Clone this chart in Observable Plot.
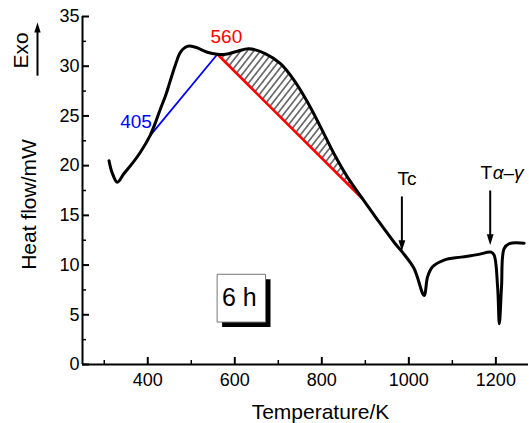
<!DOCTYPE html>
<html><head><meta charset="utf-8">
<script src="https://cdn.jsdelivr.net/npm/d3@7"></script>
<script src="https://cdn.jsdelivr.net/npm/@observablehq/plot@0.6"></script>
<style>body{margin:0;background:#fff}</style>
</head><body>
<div id="chart"></div>
<script>
// DSC curve (Temperature / K, Heat flow / mW)
const temperature = [311, 318, 330, 345, 364, 383, 405, 418, 429, 441, 450, 464, 475, 491, 510, 537, 560, 579, 606, 632, 671, 705, 736, 767, 797, 828, 859, 893, 909, 928, 966, 985, 1012, 1035, 1043, 1054, 1081, 1120, 1158, 1189, 1196, 1204, 1208, 1213, 1219, 1231, 1265];
const heatFlow    = [20.5, 19.3, 18.33, 19.18, 20.2, 21.35, 23.0, 24.37, 25.7, 27.05, 28.3, 30.2, 31.4, 32.0, 31.9, 31.4, 31.2, 31.2, 31.5, 31.75, 31.25, 30.25, 28.6, 26.4, 23.9, 21.2, 18.85, 16.7, 15.72, 14.55, 12.3, 11.3, 9.65, 6.95, 8.8, 9.8, 10.5, 10.8, 11.05, 11.3, 11.0, 7.8, 4.1, 7.8, 11.65, 12.15, 12.2];

// tangent lines
const blueLineT = [405, 560];
const blueLineV = [23.0, 31.2];
const redLineT  = [560, 893];
const redLineV  = [31.2, 16.7];
const blueLabel = "405";
const redLabel  = "560";

// axes
const xMajorTicks = [400, 600, 800, 1000, 1200];
const xMinorTicks = [300, 500, 700, 900, 1100];
const yMajorTicks = [0, 5, 10, 15, 20, 25, 30, 35];
const yMinorTicks = [2.5, 7.5, 12.5, 17.5, 22.5, 27.5, 32.5];
const xTitle = "Temperature/K";
const yTitle = "Heat flow/mW";

// annotation arrows
const arrowT     = [984, 1187];
const arrowTop   = [16.85, 17.45];
const arrowTip   = [11.4, 12.0];
const exoArrow   = {x: 250, y1: 29.0, y2: 34.4};
const exoLabel   = "Exo";
const boxLabel   = {x: 615, y: 6.67, text: "6 h"};

const curve = temperature.map((t, i) => ({t, v: heatFlow[i]}));
const blue = blueLineT.map((t, i) => ({t, v: blueLineV[i]}));
const red = redLineT.map((t, i) => ({t, v: redLineV[i]}));
const slope = (redLineV[1] - redLineV[0]) / (redLineT[1] - redLineT[0]);
const hatched = curve.filter(d => d.t >= redLineT[0] && d.t <= redLineT[1])
  .map(d => ({t: d.t, top: d.v, base: redLineV[0] + (d.t - redLineT[0]) * slope}));
const arrows = arrowT.map((t, i) => ({t, top: arrowTop[i], tip: arrowTip[i]}));

const headDown = {draw(ctx) { ctx.moveTo(0, 0); ctx.lineTo(3.4, -11); ctx.lineTo(-3.4, -11); ctx.closePath(); }};
const headUp   = {draw(ctx) { ctx.moveTo(0, 0); ctx.lineTo(3.2, 10); ctx.lineTo(-3.2, 10); ctx.closePath(); }};
const boxSym   = {draw(ctx) { ctx.rect(-24.2, -23.9, 48.4, 47.8); }};

const W = 529, H = 423, mL = 82, mR = 1, mT = 16, mB = 59;
const fw = W - mL - mR, fh = H - mT - mB;
const font = "'Liberation Sans', Arial, Helvetica, sans-serif";

const plot = Plot.plot({
  width: W, height: H,
  marginLeft: mL, marginRight: mR, marginTop: mT, marginBottom: mB,
  style: {fontFamily: font, fontSize: "18px", color: "black", background: "white", overflow: "visible"},
  x: {domain: [250, 1275], axis: null},
  y: {domain: [0, 35], axis: null},
  marks: [
    Plot.areaY(hatched, {x: "t", y1: "base", y2: "top", fill: "url(#hatch)", curve: "catmull-rom"}),
    Plot.line(blue, {x: "t", y: "v", stroke: "#0000ff", strokeWidth: 1.8}),
    Plot.line(red, {x: "t", y: "v", stroke: "#ff0000", strokeWidth: 2.6}),
    Plot.line(curve, {x: "t", y: "v", stroke: "black", strokeWidth: 3, curve: "catmull-rom"}),
    // axes lines and inward ticks
    Plot.ruleX([250], {stroke: "black", strokeWidth: 2}),
    Plot.ruleY([0], {stroke: "black", strokeWidth: 2}),
    Plot.tickY(yMajorTicks, {y: d => d, insetRight: fw - 7, strokeWidth: 2}),
    Plot.tickY(yMinorTicks, {y: d => d, insetRight: fw - 4, strokeWidth: 1.5}),
    Plot.tickX(xMajorTicks, {x: d => d, insetTop: fh - 7, strokeWidth: 2}),
    Plot.tickX(xMinorTicks, {x: d => d, insetTop: fh - 4, strokeWidth: 1.5}),
    Plot.axisX({ticks: xMajorTicks, tickFormat: d => String(d), tickSize: 0, tickPadding: 9, label: null, fontSize: 18}),
    Plot.axisY({ticks: yMajorTicks, tickFormat: d => String(d), tickSize: 0, tickPadding: 3, label: null, fontSize: 18}),
    Plot.text([xTitle], {text: d => d, frameAnchor: "bottom", textAnchor: "middle", lineAnchor: "bottom", dx: 15, dy: 54, fontSize: 21}),
    Plot.text([yTitle], {text: d => d, frameAnchor: "left", textAnchor: "middle", lineAnchor: "bottom", rotate: -90, dx: -47, dy: 14, fontSize: 21}),
    Plot.text([exoLabel], {text: d => d, frameAnchor: "top-left", textAnchor: "middle", lineAnchor: "bottom", rotate: -90, dx: -55, dy: 34, fontSize: 21}),
    Plot.ruleX([exoArrow], {x: "x", y1: "y1", y2: d => d.y2 - 0.8, dx: -45, strokeWidth: 2}),
    Plot.dot([exoArrow], {x: "x", y: "y2", dx: -45, symbol: headUp, r: 5, fill: "black", stroke: "none"}),
    // tangent labels
    Plot.text([blue[0]], {x: "t", y: "v", text: () => blueLabel, fill: "#0000ff", textAnchor: "end", lineAnchor: "bottom", dx: 2, dy: -8, fontSize: 19}),
    Plot.text([red[0]], {x: "t", y: "v", text: () => redLabel, fill: "#ff0000", textAnchor: "middle", lineAnchor: "bottom", dx: 9, dy: -11, fontSize: 19}),
    // transition arrows
    Plot.ruleX(arrows, {x: "t", y1: "top", y2: d => d.tip + 0.6, strokeWidth: 2}),
    Plot.dot(arrows, {x: "t", y: "tip", symbol: headDown, r: 5, fill: "black", stroke: "none"}),
    Plot.text([arrows[0]], {x: "t", y: "top", text: () => "Tc", textAnchor: "middle", lineAnchor: "bottom", dx: 5, dy: -12, fontSize: 19}),
    Plot.text([arrows[1]], {x: "t", y: "top", text: () => "T", textAnchor: "end", lineAnchor: "bottom", dx: 2, dy: -12, fontSize: 19}),
    Plot.text([arrows[1]], {x: "t", y: "top", text: () => "α–γ", textAnchor: "start", lineAnchor: "bottom", dx: 2.5, dy: -12, fontSize: 19, fontStyle: "italic"}),
    // 6 h box
    Plot.dot([boxLabel], {x: "x", y: "y", symbol: boxSym, r: 5, fill: "black", stroke: "none", dx: 5, dy: 5}),
    Plot.dot([boxLabel], {x: "x", y: "y", symbol: boxSym, r: 5, fill: "white", stroke: "#777", strokeWidth: 1}),
    Plot.text([boxLabel], {x: "x", y: "y", text: "text", fontSize: 25, dx: -2})
  ]
});

const svg = d3.select(plot);
const defs = svg.insert("defs", ":first-child");
const pat = defs.append("pattern")
  .attr("id", "hatch").attr("patternUnits", "userSpaceOnUse")
  .attr("width", 5.2).attr("height", 5.2)
  .attr("patternTransform", "rotate(38)");
pat.append("line").attr("x1", 2.6).attr("y1", -1).attr("x2", 2.6).attr("y2", 6.2)
  .attr("stroke", "#000").attr("stroke-width", 1);

document.getElementById("chart").append(plot);
</script>
</body></html>
